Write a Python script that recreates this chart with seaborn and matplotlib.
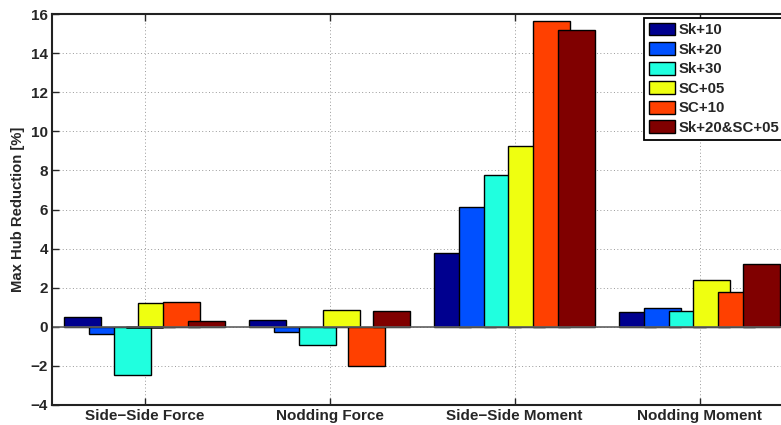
import numpy as np
import pandas as pd
import matplotlib
matplotlib.use("Agg")
import matplotlib.pyplot as plt
import seaborn as sns

# Dane
categories = ["Side\u2212Side Force", "Nodding Force", "Side\u2212Side Moment", "Nodding Moment"]
series = ["Sk+10", "Sk+20", "Sk+30", "SC+05", "SC+10", "Sk+20&SC+05"]
sk10 = [0.48, 0.34, 3.77, 0.75]
sk20 = [-0.39, -0.29, 6.11, 0.94]
sk30 = [-2.49, -0.92, 7.78, 0.79]
sc05 = [1.20, 0.85, 9.24, 2.37]
sc10 = [1.25, -1.99, 15.64, 1.77]
sk20_sc05 = [0.29, 0.80, 15.16, 3.21]
colors = ["#00008F", "#0050FF", "#20FFDF", "#EFFF10", "#FF4000", "#800000"]

values = [sk10, sk20, sk30, sc05, sc10, sk20_sc05]
rows = []
for name, vals in zip(series, values):
    for cat, v in zip(categories, vals):
        rows.append({"category": cat, "series": name, "value": v})
df = pd.DataFrame(rows)

sns.set_style("ticks")
plt.rcParams["font.family"] = ["Liberation Sans", "DejaVu Sans"]
plt.rcParams["font.weight"] = "bold"

fig = plt.figure(figsize=(7.81, 4.25), dpi=100)
ax = fig.add_axes([52 / 781, 20 / 425, 740 / 781, 391 / 425])

sns.barplot(data=df, x="category", y="value", hue="series", order=categories,
            hue_order=series, palette=colors, width=0.8, dodge=True,
            edgecolor="black", linewidth=1.0, saturation=1, errorbar=None, ax=ax)

# Szersze, nakładające się słupki (jak w MATLAB bar(..., 1.5))
for p in ax.patches:
    c = p.get_x() + p.get_width() / 2
    p.set_width(0.2)
    p.set_x(c - 0.1)

ax.axhline(0, color="#606060", lw=1.2, zorder=1.5)
ax.set_xlim(-0.5, 3.5)
ax.set_ylim(-4, 16)
ax.set_yticks(np.arange(-4, 17, 2))
ax.set_xlabel("")
ax.set_ylabel("Max Hub Reduction [%]", fontsize=10.7, fontweight="bold", labelpad=4)
ax.grid(True, color="#999999", linestyle=(0, (1, 2.5)), lw=0.7)
ax.set_axisbelow(True)
ax.tick_params(direction="in", top=True, right=True, length=5, width=1,
               labelsize=11, pad=3)
for lab in ax.get_xticklabels() + ax.get_yticklabels():
    lab.set_fontweight("bold")
for s in ax.spines.values():
    s.set_visible(True)
    s.set_linewidth(1.5)
    s.set_color("#222222")

handles, labels = ax.get_legend_handles_labels()
ax.legend(handles, labels, loc="upper left", bbox_to_anchor=(644 / 781, 1 - 18 / 425),
          bbox_transform=fig.transFigure, borderaxespad=0, fancybox=False,
          edgecolor="black", framealpha=1, handlelength=1.75, handleheight=0.95,
          handletextpad=0.25, labelspacing=0.33, borderpad=0.3,
          prop={"weight": "bold", "size": 10.8})
ax.get_legend().get_frame().set_linewidth(1.3)

plt.savefig("out.png", dpi=100)
plt.close()
